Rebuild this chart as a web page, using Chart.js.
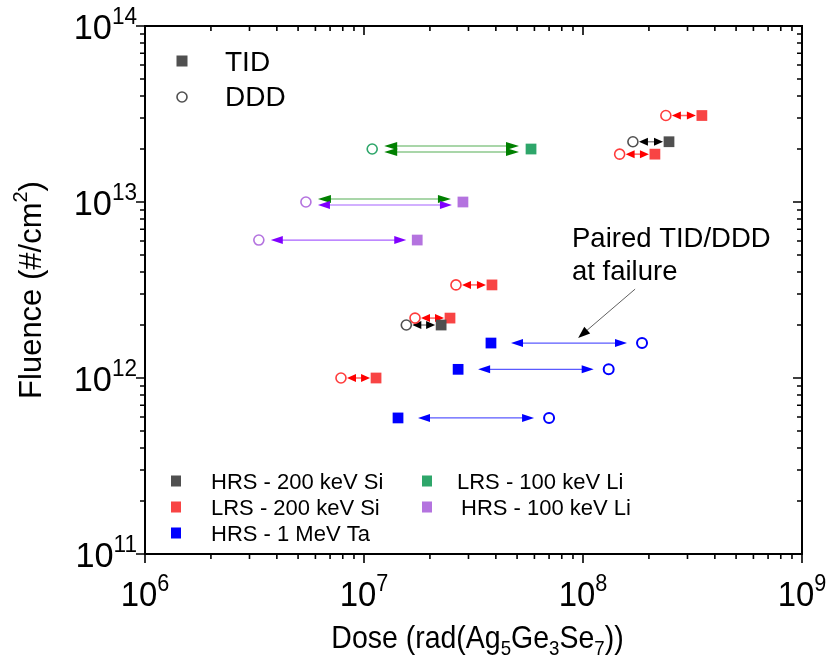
<!DOCTYPE html>
<html><head><meta charset="utf-8">
<script src="https://cdn.jsdelivr.net/npm/chart.js@4"></script>
<style>html,body{margin:0;padding:0;background:#fff}#wrap{width:828px;height:665px;position:relative}</style>
</head><body><div id="wrap"><canvas id="c" width="828" height="665"></canvas></div>
<script>
// ---- data ----
const xDecades = [1e6, 1e7, 1e8, 1e9];
const yDecades = [1e11, 1e12, 1e13, 1e14];

const hrsSiFluence = [2.2e13, 2.0e12];
const hrsSiTID     = [2.47e8, 2.25e7];
const hrsSiDDD     = [1.69e8, 1.56e7];

const lrsSiFluence = [3.1e13, 1.87e13, 3.38e12, 2.19e12, 1.0e12];
const lrsSiTID     = [3.49e8, 2.13e8, 3.84e7, 2.47e7, 1.135e7];
const lrsSiDDD     = [2.39e8, 1.47e8, 2.63e7, 1.71e7, 7.85e6];

const taFluence = [1.58e12, 1.12e12, 5.93e11];
const taTID     = [3.8e7, 2.69e7, 1.43e7];
const taDDD     = [1.86e8, 1.31e8, 7.0e7];

const lrsLiFluence = [2.0e13];
const lrsLiTID     = [5.79e7];
const lrsLiDDD     = [1.09e7];

const hrsLiFluence = [1.0e13, 6.08e12];
const hrsLiTID     = [2.83e7, 1.75e7];
const hrsLiDDD     = [5.43e6, 3.31e6];

const seriesLabels = ['HRS - 200 keV Si', 'LRS - 200 keV Si', 'HRS - 1 MeV Ta', 'LRS - 100 keV Li', 'HRS - 100 keV Li'];

// ---- styles ----
const FONT = '"Liberation Sans", Arial, sans-serif';
const series = [
  {label: seriesLabels[0], f: hrsSiFluence, tid: hrsSiTID, ddd: hrsSiDDD, fill: '#505050', stroke: '#505050',
   arrow: {head: '#000000', line: '#8a8a8a', gT: 6, gD: 6, hl: 9, hw: 4, lw: 1.5}},
  {label: seriesLabels[1], f: lrsSiFluence, tid: lrsSiTID, ddd: lrsSiDDD, fill: '#f84444', stroke: '#ff3c3c',
   arrow: {head: '#ff0000', line: '#ff6464', gT: 6, gD: 6, hl: 9, hw: 4, lw: 1.5}},
  {label: seriesLabels[2], f: taFluence, tid: taTID, ddd: taDDD, fill: '#0000ff', stroke: '#0000ff', cw: 2,
   arrow: {head: '#0000ff', line: '#5a5aff', gT: 20, gD: 15, hl: 12, hw: 4, lw: 1.2}},
  {label: seriesLabels[3], f: lrsLiFluence, tid: lrsLiTID, ddd: lrsLiDDD, fill: '#2ea66a', stroke: '#2ea66a',
   arrow: {head: '#008000', line: '#8cc88c', gT: 12, gD: 12, hl: 13, hw: 4, lw: 1.5}},
  {label: seriesLabels[4], f: hrsLiFluence, tid: hrsLiTID, ddd: hrsLiDDD, fill: '#b473df', stroke: '#b473df',
   arrow: {head: '#8000ff', line: '#a860ff', gT: 11, gD: 12, hl: 12, hw: 4, lw: 1.2}}
];
const greenArrow = series[3].arrow;
const purpleLight = {head: '#8000ff', line: '#d2b0ff', gT: 11, gD: 12, hl: 12, hw: 4, lw: 2};

const datasets = [];
series.forEach(s => {
  datasets.push({label: s.label + ' TID', data: s.f.map((v, i) => ({x: s.tid[i], y: v})),
    pointStyle: 'rect', pointRadius: 7.6, backgroundColor: s.fill, borderColor: s.fill, borderWidth: 0, showLine: false});
  datasets.push({label: s.label + ' DDD', data: s.f.map((v, i) => ({x: s.ddd[i], y: v})),
    pointStyle: 'circle', pointRadius: 5, backgroundColor: 'rgba(0,0,0,0)', borderColor: s.stroke, borderWidth: s.cw || 1.6, showLine: false});
});

function arrowHead(ctx, tipX, y, dir, hl, hw) {
  ctx.beginPath();
  ctx.moveTo(tipX, y);
  ctx.lineTo(tipX - dir * hl, y - hw);
  ctx.lineTo(tipX - dir * hl, y + hw);
  ctx.closePath();
  ctx.fill();
}
function doubleArrow(ctx, l, r, y, st) {
  ctx.strokeStyle = st.line; ctx.lineWidth = st.lw;
  ctx.beginPath(); ctx.moveTo(l + st.gl + st.hl * 0.6, y); ctx.lineTo(r - st.gr - st.hl * 0.6, y); ctx.stroke();
  ctx.fillStyle = st.head;
  arrowHead(ctx, l + st.gl, y, -1, st.hl, st.hw);
  arrowHead(ctx, r - st.gr, y, 1, st.hl, st.hw);
}

function runsWidth(ctx, runs) {
  let w = 0;
  runs.forEach(r => { ctx.font = r.size + 'px ' + FONT; w += ctx.measureText(r.t).width; });
  return w;
}
// draws a sequence of text runs (for super/subscripts); sx = horizontal squeeze
function drawRuns(ctx, runs, x, y, align, sx) {
  sx = sx || 1;
  const w = runsWidth(ctx, runs) * sx;
  let cx = align === 'center' ? x - w / 2 : (align === 'right' ? x - w : x);
  ctx.save();
  ctx.translate(cx, y);
  ctx.scale(sx, 1);
  ctx.textAlign = 'left'; ctx.textBaseline = 'alphabetic';
  let px = 0;
  runs.forEach(r => {
    ctx.font = r.size + 'px ' + FONT;
    ctx.fillText(r.t, px, (r.dy || 0));
    px += ctx.measureText(r.t).width;
  });
  ctx.restore();
}
function powRuns(v) {
  const e = Math.round(Math.log10(v));
  return [{t: '10', size: 35}, {t: String(e), size: 23, dy: -15}];
}

const decor = {
  id: 'decor',
  beforeDatasetsDraw(chart) {
    const ctx = chart.ctx, xs = chart.scales.x, ys = chart.scales.y;
    ctx.save();
    series.forEach((s, si) => {
      s.f.forEach((v, i) => {
        const y = ys.getPixelForValue(v);
        const pt = xs.getPixelForValue(s.tid[i]), pd = xs.getPixelForValue(s.ddd[i]);
        const tidLeft = pt < pd;
        let layers;
        if (si === 3) layers = [[greenArrow, -3], [greenArrow, 3]];
        else if (si === 4 && i === 0) layers = [[greenArrow, -3], [purpleLight, 3]];
        else layers = [[s.arrow, 0]];
        layers.forEach(([a, off]) => {
          const st = Object.assign({}, a);
          st.gl = tidLeft ? a.gT : a.gD;
          st.gr = tidLeft ? a.gD : a.gT;
          doubleArrow(ctx, Math.min(pt, pd), Math.max(pt, pd), y + off, st);
        });
      });
    });
    ctx.restore();
  },
  afterDraw(chart) {
    const ctx = chart.ctx, xs = chart.scales.x, ys = chart.scales.y, a = chart.chartArea;
    ctx.save();
    ctx.strokeStyle = '#000'; ctx.fillStyle = '#000';
    // frame
    ctx.lineWidth = 2;
    ctx.strokeRect(a.left, a.top, a.right - a.left, a.bottom - a.top);
    // ticks
    ctx.lineWidth = 1.6;
    const xs0 = Math.log10(xs.min), xs1 = Math.log10(xs.max);
    for (let e = xs0; e <= xs1; e++) {
      for (let m = 1; m <= 9; m++) {
        const v = m * Math.pow(10, e);
        if (v > xs.max * 1.0001) break;
        const px = xs.getPixelForValue(v);
        const L = m === 1 ? 9 : 5;
        ctx.beginPath();
        ctx.moveTo(px, a.bottom); ctx.lineTo(px, a.bottom + L);
        ctx.moveTo(px, a.top); ctx.lineTo(px, a.top + L);
        ctx.stroke();
      }
    }
    const ys0 = Math.log10(ys.min), ys1 = Math.log10(ys.max);
    for (let e = ys0; e <= ys1; e++) {
      for (let m = 1; m <= 9; m++) {
        const v = m * Math.pow(10, e);
        if (v > ys.max * 1.0001) break;
        const py = ys.getPixelForValue(v);
        const L = m === 1 ? 9 : 5;
        ctx.beginPath();
        ctx.moveTo(a.left, py); ctx.lineTo(a.left - L, py);
        ctx.moveTo(a.right, py); ctx.lineTo(a.right - L, py);
        ctx.stroke();
      }
    }
    // tick labels
    xDecades.forEach(v => drawRuns(ctx, powRuns(v), xs.getPixelForValue(v), a.bottom + 52, 'center', 0.94));
    yDecades.forEach(v => drawRuns(ctx, powRuns(v), a.left - 8, ys.getPixelForValue(v) + 12.5, 'right', 0.98));
    // axis titles
    drawRuns(ctx, [{t: 'Dose (rad(Ag', size: 32}, {t: '5', size: 21, dy: 7}, {t: 'Ge', size: 32}, {t: '3', size: 21, dy: 7},
      {t: 'Se', size: 32}, {t: '7', size: 21, dy: 7}, {t: '))', size: 32}], (a.left + a.right) / 2 + 4, 648, 'center', 0.89);
    ctx.save();
    ctx.translate(41, (a.top + a.bottom) / 2);
    ctx.rotate(-Math.PI / 2);
    drawRuns(ctx, [{t: 'Fluence (#/cm', size: 31}, {t: '2', size: 20, dy: -14}, {t: ')', size: 31}], 0, 0, 'center');
    ctx.restore();
    // TID / DDD legend
    ctx.fillStyle = '#505050';
    ctx.fillRect(176.5, 55.5, 11, 11);
    ctx.strokeStyle = '#505050'; ctx.lineWidth = 1.6;
    ctx.beginPath(); ctx.arc(182, 97, 5, 0, 2 * Math.PI); ctx.stroke();
    ctx.fillStyle = '#000';
    ctx.font = '28px ' + FONT; ctx.textAlign = 'left'; ctx.textBaseline = 'alphabetic';
    ctx.fillText('TID', 225, 71);
    ctx.fillText('DDD', 225, 106);
    // series legend
    const legPos = [[176, 211, 481], [176, 211, 507], [176, 211, 533], [427, 457, 481], [427, 461, 507]];
    ctx.font = '22px ' + FONT;
    series.forEach((s, i) => {
      const [mx, tx, ly] = legPos[i];
      ctx.fillStyle = s.fill;
      ctx.fillRect(mx - 5, ly - 5.5, 10, 11);
      ctx.fillStyle = '#000';
      ctx.fillText(s.label, tx, ly + 8);
    });
    // annotation
    ctx.font = '27.5px ' + FONT;
    ctx.fillText('Paired TID/DDD', 572, 247);
    ctx.fillText('at failure', 572, 280);
    const tail = {x: xs.getPixelForValue(1.73e8), y: ys.getPixelForValue(3.2e12)};
    const tip = {x: xs.getPixelForValue(9.5e7), y: ys.getPixelForValue(1.69e12)};
    const ang = Math.atan2(tip.y - tail.y, tip.x - tail.x);
    ctx.strokeStyle = '#606060'; ctx.lineWidth = 1;
    ctx.beginPath(); ctx.moveTo(tail.x, tail.y); ctx.lineTo(tip.x - 8 * Math.cos(ang), tip.y - 8 * Math.sin(ang)); ctx.stroke();
    ctx.fillStyle = '#000';
    ctx.beginPath();
    ctx.moveTo(tip.x, tip.y);
    ctx.lineTo(tip.x - 12 * Math.cos(ang) + 4.5 * Math.sin(ang), tip.y - 12 * Math.sin(ang) - 4.5 * Math.cos(ang));
    ctx.lineTo(tip.x - 12 * Math.cos(ang) - 4.5 * Math.sin(ang), tip.y - 12 * Math.sin(ang) + 4.5 * Math.cos(ang));
    ctx.closePath(); ctx.fill();
    ctx.restore();
  }
};

new Chart(document.getElementById('c'), {
  type: 'scatter',
  data: {datasets},
  options: {
    responsive: false, animation: false, devicePixelRatio: 1,
    layout: {padding: {top: 26, right: 26, left: 0, bottom: 0}},
    plugins: {legend: {display: false}, tooltip: {enabled: false}},
    scales: {
      x: {type: 'logarithmic', min: xDecades[0], max: xDecades[xDecades.length - 1],
          ticks: {display: false}, grid: {display: false}, border: {display: false},
          afterFit(s) { s.height = 111; }},
      y: {type: 'logarithmic', min: yDecades[0], max: yDecades[yDecades.length - 1],
          ticks: {display: false}, grid: {display: false}, border: {display: false},
          afterFit(s) { s.width = 145; }}
    }
  },
  plugins: [decor]
});
</script></body></html>
